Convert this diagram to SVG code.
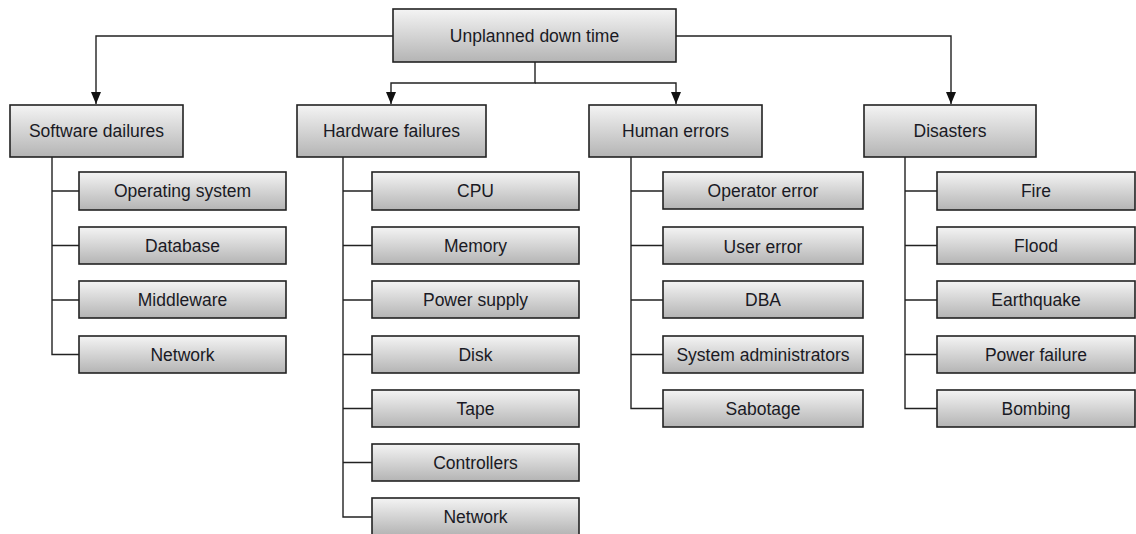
<svg xmlns="http://www.w3.org/2000/svg" width="1136" height="534" viewBox="0 0 1136 534">
<defs>
<linearGradient id="g" x1="0" y1="0" x2="0" y2="1">
<stop offset="0" stop-color="#f4f4f4"/>
<stop offset="1" stop-color="#b4b4b4"/>
</linearGradient>
<marker id="ah" viewBox="0 0 12 10" refX="12" refY="5" markerWidth="12" markerHeight="10" markerUnits="userSpaceOnUse" orient="auto">
<path d="M0,0 L12,5 L0,10 Z" fill="#111"/>
</marker>
</defs>
<style>
.box{fill:url(#g);stroke:#222;stroke-width:1.6}
.t{font-family:"Liberation Sans",Arial,sans-serif;font-size:17.5px;fill:#1a1a24;text-anchor:middle;dominant-baseline:central}
.c{fill:none;stroke:#222;stroke-width:1.4}
</style>
<rect width="1136" height="534" fill="#fff"/>
<g id="connectors">
<path class="c" d="M393,36 H96 V104" marker-end="url(#ah)"/>
<path class="c" d="M676,36 H951 V104" marker-end="url(#ah)"/>
<path class="c" d="M535,62 V83 H391 V104" marker-end="url(#ah)"/>
<path class="c" d="M535,83 H676 V104" marker-end="url(#ah)"/>
<path class="c" d="M52,157 V354.5 H79"/>
<path class="c" d="M52,191 H79 M52,245.5 H79 M52,300 H79"/>
<path class="c" d="M343,157 V517 H372"/>
<path class="c" d="M343,191 H372 M343,245.5 H372 M343,300 H372 M343,354.5 H372 M343,408.5 H372 M343,462.5 H372"/>
<path class="c" d="M631,157 V408.5 H663"/>
<path class="c" d="M631,191 H663 M631,245.5 H663 M631,300 H663 M631,354.5 H663"/>
<path class="c" d="M905,157 V408.5 H937"/>
<path class="c" d="M905,191 H937 M905,245.5 H937 M905,300 H937 M905,354.5 H937"/>
</g>
<g id="root"><rect class="box" x="393" y="9" width="283" height="53"/><text class="t" x="534.5" y="35.5">Unplanned down time</text></g>
<g id="software"><rect class="box" x="10" y="105" width="173" height="52"/><text class="t" x="96.5" y="131">Software dailures</text></g>
<g id="hardware"><rect class="box" x="297" y="105" width="189" height="52"/><text class="t" x="391.5" y="131">Hardware failures</text></g>
<g id="human"><rect class="box" x="589" y="105" width="173" height="52"/><text class="t" x="675.5" y="131">Human errors</text></g>
<g id="disasters"><rect class="box" x="864" y="105" width="172" height="52"/><text class="t" x="950" y="131">Disasters</text></g>

<g id="sw-os"><rect class="box" x="79" y="172" width="207" height="38"/><text class="t" x="182.5" y="191">Operating system</text></g>
<g id="sw-db"><rect class="box" x="79" y="227" width="207" height="37"/><text class="t" x="182.5" y="245.5">Database</text></g>
<g id="sw-mw"><rect class="box" x="79" y="281" width="207" height="37"/><text class="t" x="182.5" y="300">Middleware</text></g>
<g id="sw-net"><rect class="box" x="79" y="336" width="207" height="37"/><text class="t" x="182.5" y="354.5">Network</text></g>

<g id="hw-cpu"><rect class="box" x="372" y="172" width="207" height="38"/><text class="t" x="475.5" y="191">CPU</text></g>
<g id="hw-mem"><rect class="box" x="372" y="227" width="207" height="37"/><text class="t" x="475.5" y="245.5">Memory</text></g>
<g id="hw-ps"><rect class="box" x="372" y="281" width="207" height="37"/><text class="t" x="475.5" y="300">Power supply</text></g>
<g id="hw-disk"><rect class="box" x="372" y="336" width="207" height="37"/><text class="t" x="475.5" y="354.5">Disk</text></g>
<g id="hw-tape"><rect class="box" x="372" y="390" width="207" height="37"/><text class="t" x="475.5" y="408.5">Tape</text></g>
<g id="hw-ctrl"><rect class="box" x="372" y="444" width="207" height="37"/><text class="t" x="475.5" y="462.5">Controllers</text></g>
<g id="hw-net"><rect class="box" x="372" y="498" width="207" height="37"/><text class="t" x="475.5" y="516.5">Network</text></g>

<g id="hu-op"><rect class="box" x="663" y="172" width="200" height="37"/><text class="t" x="763" y="190.5">Operator error</text></g>
<g id="hu-user"><rect class="box" x="663" y="227" width="200" height="37"/><text class="t" x="763" y="247">User error</text></g>
<g id="hu-dba"><rect class="box" x="663" y="281" width="200" height="37"/><text class="t" x="763" y="300">DBA</text></g>
<g id="hu-sys"><rect class="box" x="663" y="336" width="200" height="37"/><text class="t" x="763" y="354.5">System administrators</text></g>
<g id="hu-sab"><rect class="box" x="663" y="390" width="200" height="37"/><text class="t" x="763" y="408.5">Sabotage</text></g>

<g id="di-fire"><rect class="box" x="937" y="172" width="198" height="38"/><text class="t" x="1036" y="191">Fire</text></g>
<g id="di-flood"><rect class="box" x="937" y="227" width="198" height="37"/><text class="t" x="1036" y="245.5">Flood</text></g>
<g id="di-eq"><rect class="box" x="937" y="281" width="198" height="37"/><text class="t" x="1036" y="300">Earthquake</text></g>
<g id="di-pf"><rect class="box" x="937" y="336" width="198" height="37"/><text class="t" x="1036" y="354.5">Power failure</text></g>
<g id="di-bomb"><rect class="box" x="937" y="390" width="198" height="37"/><text class="t" x="1036" y="408.5">Bombing</text></g>
</svg>
